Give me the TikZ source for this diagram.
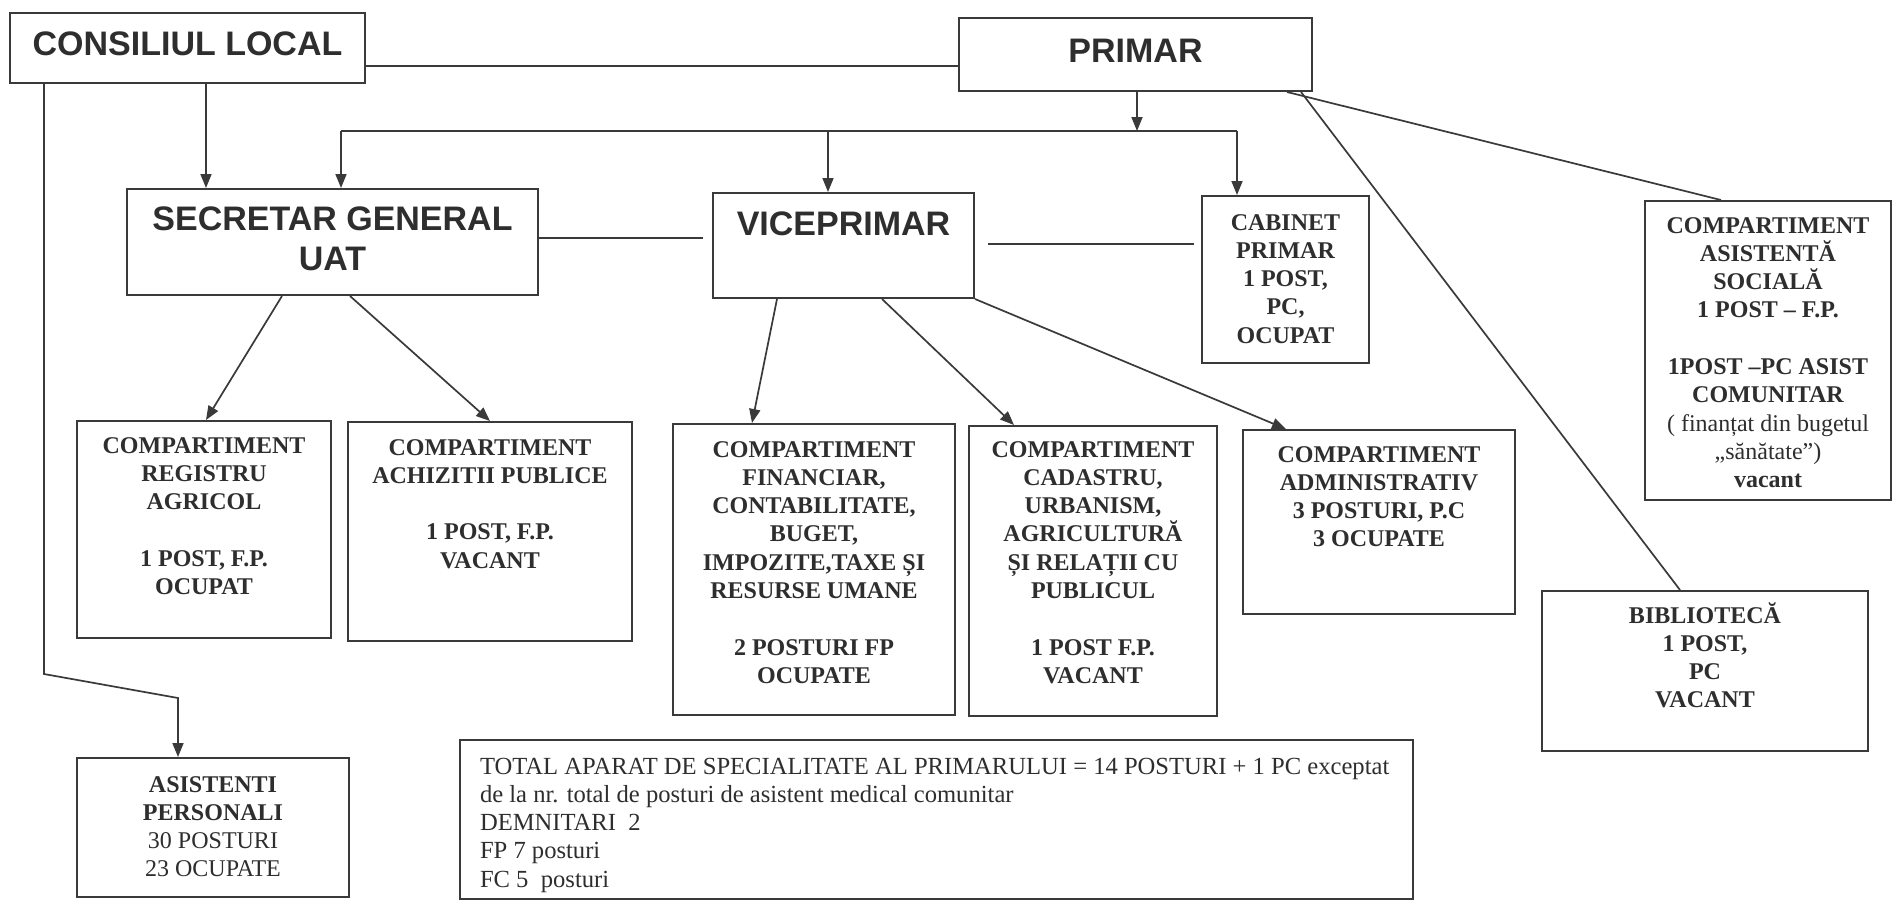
\documentclass[tikz,border=0pt]{standalone}
\usepackage{fontspec}
\setmainfont{Liberation Serif}
\newfontfamily\hsans{Liberation Sans}
\usetikzlibrary{arrows.meta}
\definecolor{ink}{HTML}{2E2E2E}
\definecolor{edge}{HTML}{3A3A3A}
\newcommand\boxtext[4]{\parbox[c][#2pt][t]{#1pt}{\centering\rule{0pt}{#3pt}#4}}
\begin{document}
\begin{tikzpicture}[x=1pt,y=-1pt,
  box/.style={draw=edge, line width=2pt, inner sep=0pt, text=ink, font=\fontsize{24}{28.3}\selectfont\bfseries},
  hbox/.style={box, font=\hsans\fontsize{34}{40}\selectfont\bfseries},
  ln/.style={draw=edge, line width=1.7pt},
  arr/.style={ln, -{Triangle[length=14pt,width=11pt]}}]
\fill[white] (0,0) rectangle (1893,906);
\useasboundingbox (0,0) rectangle (1893,906);

\node[hbox] (cl) at (187.5,48) {\boxtext{355}{70}{42}{CONSILIUL LOCAL}};
\node[hbox] (primar) at (1135.5,54.5) {\boxtext{353}{73}{44}{PRIMAR}};
\node[hbox] (sg) at (332.5,242) {\boxtext{411}{106}{41}{SECRETAR GENERAL\\UAT}};
\node[hbox] (vp) at (843.5,245.5) {\boxtext{261}{105}{42}{VICEPRIMAR}};
\node[box] (cab) at (1285.5,279.5) {\boxtext{167}{167}{34}{CABINET\\PRIMAR\\1 POST,\\PC,\\OCUPAT}};
\node[box] (asoc) at (1768,350.5) {\boxtext{246}{299}{32}{COMPARTIMENT\\ASISTENTĂ\\SOCIALĂ\\1 POST – F.P.\\[28.3pt]1POST –PC ASIST\\COMUNITAR\\{\mdseries ( finanțat din bugetul}\\{\mdseries „sănătate”)}\\vacant}};
\node[box] (reg) at (204,529.5) {\boxtext{254}{217}{32}{COMPARTIMENT\\REGISTRU\\AGRICOL\\[28.3pt]1 POST, F.P.\\OCUPAT}};
\node[box] (ach) at (490,531.5) {\boxtext{284}{219}{33}{COMPARTIMENT\\ACHIZITII PUBLICE\\[28.3pt]1 POST, F.P.\\VACANT}};
\node[box] (fin) at (814,569.5) {\boxtext{282}{291}{33}{COMPARTIMENT\\FINANCIAR,\\CONTABILITATE,\\BUGET,\\IMPOZITE,TAXE ȘI\\RESURSE UMANE\\[28.3pt]2 POSTURI FP\\OCUPATE}};
\node[box] (cad) at (1093,571) {\boxtext{248}{290}{31}{COMPARTIMENT\\CADASTRU,\\URBANISM,\\AGRICULTURĂ\\ȘI RELAȚII CU\\PUBLICUL\\[28.3pt]1 POST F.P.\\VACANT}};
\node[box] (adm) at (1379,522) {\boxtext{272}{184}{32}{COMPARTIMENT\\ADMINISTRATIV\\3 POSTURI, P.C\\3 OCUPATE}};
\node[box] (bib) at (1705,671) {\boxtext{326}{160}{32}{BIBLIOTECĂ\\1 POST,\\PC\\VACANT}};
\node[box] (asp) at (213,827.5) {\boxtext{272}{139}{34}{ASISTENTI\\PERSONALI\\{\mdseries 30 POSTURI}\\{\mdseries 23 OCUPATE}}};
\node[box, font=\fontsize{24.6}{28.3}\selectfont] (tot) at (936.5,819.5) {\parbox[c][159pt][t]{953pt}{\raggedright\leftskip=20pt\relax\rule{0pt}{34pt}TOTAL APARAT DE SPECIALITATE AL PRIMARULUI = 14 POSTURI + 1 PC exceptat\\de la nr. total de posturi de asistent medical comunitar\\DEMNITARI~~2\\FP 7 posturi\\FC 5~~posturi}};

\coordinate (busL) at (341,131);
\coordinate (busR) at (1237,131);
\coordinate (bend1) at (44,674);
\coordinate (bend2) at (178,698);
\coordinate (clA) at ([xshift=18.5pt]cl.south);
\coordinate (clB) at ([xshift=-143.5pt]cl.south);
\coordinate (prA) at ([xshift=1.5pt]primar.south);
\coordinate (vpA) at ([xshift=-15.5pt]vp.north);
\coordinate (sgE) at ([yshift=4pt]sg.east);
\coordinate (vpE) at ([yshift=1.5pt]vp.east);

\draw[ln] ([yshift=-18pt]cl.east) -- ([yshift=-11.5pt]primar.west);
\draw[arr] (clA) -- (clA |- sg.north);
\draw[arr] (clB) -- (bend1) -- (bend2) -- (bend2 |- asp.north);
\draw[arr] (prA) -- (prA |- busL);
\draw[ln] (busL) -- (busR);
\draw[arr] (busL) -- (busL |- sg.north);
\draw[arr] (vpA |- busL) -- (vpA);
\draw[arr] (busR) -- (busR |- cab.north);
\draw[ln, shorten >=9pt] (sgE) -- (sgE -| vp.west);
\draw[ln, shorten <=13pt, shorten >=7pt] (vpE) -- (vpE -| cab.west);

\draw[arr] ([xshift=-50.5pt]sg.south) -- ([xshift=2pt]reg.north);
\draw[arr] ([xshift=17.5pt]sg.south) -- (ach.north);
\draw[arr] ([xshift=-66.5pt]vp.south) -- ([xshift=-62pt]fin.north);
\draw[arr] ([xshift=38.5pt]vp.south) -- ([xshift=-79pt]cad.north);
\draw[arr] (vp.south east) -- ([xshift=-93pt]adm.north);
\draw[ln] ([xshift=151.5pt]primar.south) -- ([xshift=-47pt]asoc.north);
\draw[ln] ([xshift=165.5pt]primar.south) -- ([xshift=-25pt]bib.north);
\end{tikzpicture}
\end{document}
